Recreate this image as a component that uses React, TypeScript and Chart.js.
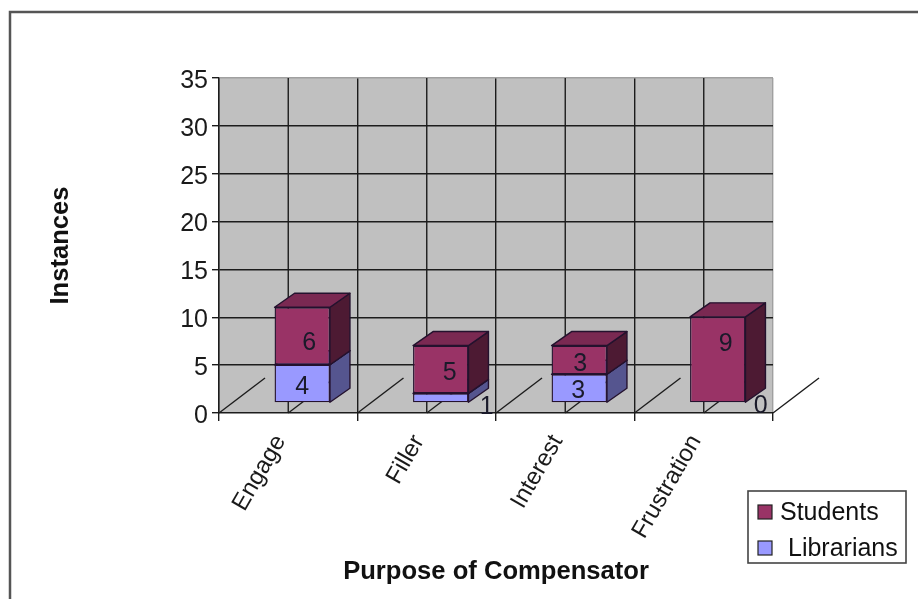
import React, { useEffect, useRef } from "react";
import { Chart, registerables } from "chart.js";

Chart.register(...registerables);

const categories = ["Engage", "Filler", "Interest", "Frustration"];
const librarians = [4, 1, 3, 0];
const students = [6, 5, 3, 9];
const yTicks = [0, 5, 10, 15, 20, 25, 30, 35];

const FONT = '"Liberation Sans", Arial, sans-serif';
const INK = "#1c1c1c";
const DEPTH = { x: 20, y: -14 };
const SHIFT = { x: 14, y: -10 };
const FLOOR = { x: 46, y: -35 };
const FACES: Record<string, { front: string; top: string; side: string }> = {
  Students: { front: "#993366", top: "#7a2952", side: "#4d1a33" },
  Librarians: { front: "#9999ff", top: "#7a7acc", side: "#55558f" },
};
// label nudges relative to the centre of each front face
const LABEL_NUDGE: Record<string, [number, number][]> = {
  Students: [[7, 7], [9, 4], [1, 4], [8, -15]],
  Librarians: [[0, 4], [46, 9], [-1, 3], [43, 3]],
};
// tick label nudges per axis
const TICK_NUDGE: Record<string, [number, number]> = { x: [-8, 5], y: [-1, 3] };

const chart3d = {
  id: "chart3d",
  beforeDraw(chart: any) {
    const { ctx, chartArea: a } = chart;
    ["x", "y"].forEach((id) => {
      chart.scales[id].getLabelItems(a).forEach((item: any) => {
        if (item.nudged) return;
        item.nudged = true;
        item.options.translation = [
          item.options.translation[0] + TICK_NUDGE[id][0],
          item.options.translation[1] + TICK_NUDGE[id][1],
        ];
      });
    });
    ctx.save();
    ctx.fillStyle = "#ffffff";
    ctx.fillRect(0, 0, chart.width, chart.height);
    ctx.strokeStyle = "#555555";
    ctx.lineWidth = 2.5;
    ctx.beginPath();
    ctx.moveTo(10, 599);
    ctx.lineTo(10, 12);
    ctx.lineTo(918, 12);
    ctx.stroke();
    ctx.fillStyle = "#c0c0c0";
    ctx.fillRect(a.left, a.top, a.right - a.left, a.bottom - a.top);
    ctx.restore();
  },
  beforeDatasetsDraw(chart: any) {
    const { ctx, chartArea: a, scales } = chart;
    const x = scales.x;
    ctx.save();
    ctx.strokeStyle = INK;
    ctx.lineWidth = 1.4;
    // mid-category wall lines and the floor diagonals
    categories.forEach((_, i) => {
      const px = x.getPixelForValue(i);
      ctx.beginPath();
      ctx.moveTo(px, a.top);
      ctx.lineTo(px, a.bottom);
      ctx.stroke();
    });
    const step = (a.right - a.left) / categories.length / 2;
    for (let i = 0; i <= categories.length * 2; i++) {
      const px = a.left + i * step;
      ctx.beginPath();
      ctx.moveTo(px, a.bottom);
      ctx.lineTo(px + FLOOR.x, a.bottom + FLOOR.y);
      ctx.stroke();
    }
    ctx.restore();
    // bars are drawn standing on the raised floor
    ctx.save();
    ctx.translate(SHIFT.x, SHIFT.y);
    chart.getSortedVisibleDatasetMetas().forEach((meta: any) => {
      const faces = FACES[meta.label];
      meta.data.forEach((bar: any, i: number) => {
        if (!chart.data.datasets[meta.index].data[i]) return;
        const p = bar.getProps(["x", "y", "base", "width"], true);
        const l = p.x - p.width / 2;
        const r = p.x + p.width / 2;
        ctx.strokeStyle = "#24122e";
        ctx.lineWidth = 1.4;
        ctx.lineJoin = "round";
        ctx.fillStyle = faces.side;
        ctx.beginPath();
        ctx.moveTo(r, p.y);
        ctx.lineTo(r + DEPTH.x, p.y + DEPTH.y);
        ctx.lineTo(r + DEPTH.x, p.base + DEPTH.y);
        ctx.lineTo(r, p.base);
        ctx.closePath();
        ctx.fill();
        ctx.stroke();
        ctx.fillStyle = faces.top;
        ctx.beginPath();
        ctx.moveTo(l, p.y);
        ctx.lineTo(l + DEPTH.x, p.y + DEPTH.y);
        ctx.lineTo(r + DEPTH.x, p.y + DEPTH.y);
        ctx.lineTo(r, p.y);
        ctx.closePath();
        ctx.fill();
        ctx.stroke();
      });
    });
  },
  afterDatasetsDraw(chart: any) {
    const { ctx } = chart;
    ctx.font = `25px ${FONT}`;
    ctx.fillStyle = "#1a1a2a";
    ctx.textAlign = "center";
    ctx.textBaseline = "middle";
    chart.getSortedVisibleDatasetMetas().forEach((meta: any) => {
      const values = chart.data.datasets[meta.index].data;
      meta.data.forEach((bar: any, i: number) => {
        const p = bar.getProps(["x", "y", "base"], true);
        const n = LABEL_NUDGE[meta.label][i];
        ctx.fillText(String(values[i]), p.x + n[0], (p.y + p.base) / 2 + n[1]);
      });
    });
    ctx.restore();

    // legend, from the dataset names
    ctx.save();
    ctx.fillStyle = "#ffffff";
    ctx.strokeStyle = "#444444";
    ctx.lineWidth = 1.6;
    ctx.fillRect(748, 491, 158, 72);
    ctx.strokeRect(748, 491, 158, 72);
    ctx.font = `25px ${FONT}`;
    ctx.textBaseline = "middle";
    ctx.textAlign = "left";
    [...chart.data.datasets].reverse().forEach((ds: any, i: number) => {
      const y = 512 + i * 36;
      ctx.fillStyle = FACES[ds.label].front;
      ctx.strokeStyle = "#222222";
      ctx.lineWidth = 1.2;
      ctx.fillRect(758, y - 7, 14, 14);
      ctx.strokeRect(758, y - 7, 14, 14);
      ctx.fillStyle = "#111111";
      ctx.fillText(ds.label, i === 0 ? 780 : 788, y + 1);
    });
    ctx.restore();
  },
};

export default function App() {
  const ref = useRef<HTMLCanvasElement>(null);
  useEffect(() => {
    const bar = { borderColor: "#24122e", borderWidth: 1.4, borderSkipped: false, stack: "s", barPercentage: 0.8, categoryPercentage: 0.5 };
    const chart = new Chart(ref.current!, {
      type: "bar",
      data: {
        labels: categories,
        datasets: [
          { label: "Librarians", data: librarians, backgroundColor: FACES.Librarians.front, ...bar },
          { label: "Students", data: students, backgroundColor: FACES.Students.front, ...bar },
        ],
      },
      options: {
        responsive: false,
        animation: false,
        devicePixelRatio: 1,
        layout: { padding: { left: 46, right: 145, top: 78, bottom: 12 } },
        plugins: { legend: { display: false }, tooltip: { enabled: false }, title: { display: false } },
        scales: {
          x: {
            stacked: true,
            offset: true,
            afterFit(s: any) { s.height = 174; },
            grid: {
              offset: true,
              color: (c: any) => (c.index === undefined ? "#a0a0a0" : INK),
              tickColor: INK,
              lineWidth: 1.4,
              tickLength: 8,
            },
            border: { display: false },
            ticks: { color: "#1a1a1a", font: { family: FONT, size: 24 }, maxRotation: 60, minRotation: 60, autoSkip: false, padding: 4 },
            title: { display: true, text: "Purpose of Compensator", color: "#111111", font: { family: FONT, size: 25.6, weight: "bold" }, padding: 0 },
          },
          y: {
            stacked: true,
            min: 0,
            max: 35,
            afterFit(s: any) { s.width = 173; },
            afterBuildTicks(s: any) { s.ticks = yTicks.map((value) => ({ value })); },
            grid: {
              color: (c: any) => (c.tick && c.tick.value === yTicks[yTicks.length - 1] ? "#a0a0a0" : INK),
              tickColor: INK,
              lineWidth: 1.4,
              tickLength: 7,
            },
            border: { display: true, color: INK, width: 1.4 },
            ticks: { color: "#1a1a1a", font: { family: FONT, size: 25 }, padding: 3 },
            title: { display: true, text: "Instances", color: "#111111", font: { family: FONT, size: 25.6, weight: "bold" }, padding: 0 },
          },
        },
      },
      plugins: [chart3d],
    } as any);
    return () => chart.destroy();
  }, []);
  return (
    <div style={{ position: "absolute", left: 0, top: 0, width: 918, height: 599 }}>
      <canvas ref={ref} width={918} height={599} style={{ display: "block", filter: "blur(0.45px)" }} />
    </div>
  );
}
